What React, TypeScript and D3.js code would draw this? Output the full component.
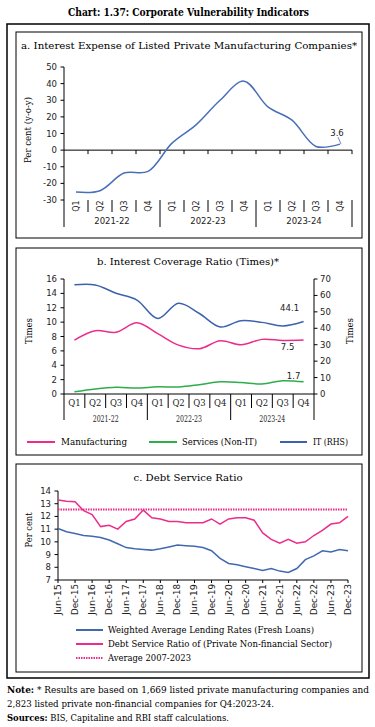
import React from "react";
import * as d3 from "d3";

const QUARTERS = ["Q1", "Q2", "Q3", "Q4"];
const YEARS = ["2021-22", "2022-23", "2023-24"];
const interestExpense = [-25.2, -24.4, -13.8, -12.8, 4.2, 15.2, 30, 41.5, 26, 18, 2.2, 3.6];
const ticksA = [-30, -20, -10, 0, 10, 20, 30, 40, 50];

const manufacturing = [7.5, 8.8, 8.6, 9.9, 8.4, 6.8, 6.3, 7.4, 6.85, 7.6, 7.45, 7.5];
const services = [0.3, 0.7, 0.93, 0.83, 1.0, 0.97, 1.3, 1.7, 1.6, 1.4, 1.85, 1.7];
const itRHS = [66.5, 66.4, 61.3, 57.2, 46, 55.2, 49, 40.8, 44.6, 43.6, 41.4, 44.1];
const ticksBL = [0, 2, 4, 6, 8, 10, 12, 14, 16];
const ticksBR = [0, 10, 20, 30, 40, 50, 60, 70];

const dates = ["Jun-15", "Sep-15", "Dec-15", "Mar-16", "Jun-16", "Sep-16", "Dec-16", "Mar-17", "Jun-17", "Sep-17", "Dec-17", "Mar-18", "Jun-18", "Sep-18", "Dec-18", "Mar-19", "Jun-19", "Sep-19", "Dec-19", "Mar-20", "Jun-20", "Sep-20", "Dec-20", "Mar-21", "Jun-21", "Sep-21", "Dec-21", "Mar-22", "Jun-22", "Sep-22", "Dec-22", "Mar-23", "Jun-23", "Sep-23", "Dec-23"];
const dsr = [13.3, 13.2, 13.15, 12.45, 12.15, 11.2, 11.3, 11.0, 11.6, 11.8, 12.5, 11.9, 11.8, 11.6, 11.6, 11.5, 11.5, 11.5, 11.8, 11.4, 11.8, 11.9, 11.9, 11.7, 10.7, 10.2, 9.9, 10.2, 9.9, 10.0, 10.5, 10.9, 11.4, 11.5, 12.0];
const walr = [11.05, 10.8, 10.65, 10.5, 10.45, 10.35, 10.15, 9.85, 9.55, 9.45, 9.4, 9.35, 9.45, 9.6, 9.75, 9.7, 9.65, 9.55, 9.3, 8.7, 8.3, 8.2, 8.05, 7.9, 7.75, 7.9, 7.7, 7.6, 7.9, 8.6, 8.9, 9.3, 9.2, 9.4, 9.3];
const averageDSR = 12.55;
const ticksC = [7, 8, 9, 10, 11, 12, 13, 14];

const SANS = "DejaVu Sans, Verdana, sans-serif";
const SERIF = "DejaVu Serif, Cambria, serif";
const BLUE_A = "#4A6FB8";
const PINK = "#EC2C8C";
const GREEN = "#2EAD4B";
const BLUE_IT = "#3D62AD";

const quarterKeys = YEARS.flatMap((y) => QUARTERS.map((q) => `${y}-${q}`));

function PanelA() {
  const x = d3.scaleBand<string>().domain(quarterKeys).range([64, 352]);
  const y = d3.scaleLinear().domain([-30, 50]).range([200, 67]);
  const line = d3
    .line<number>()
    .x((_, i) => (x(quarterKeys[i]) as number) + x.bandwidth() / 2)
    .y((d) => y(d))
    .curve(d3.curveCatmullRom.alpha(0.5));
  const step = x.step();
  const x0 = x.range()[0];
  const last = interestExpense.length - 1;
  const px = (x(quarterKeys[last]) as number) + x.bandwidth() / 2;
  const py = y(interestExpense[last]);
  return (
    <g>
      <rect x={16} y={32} width={346} height={206} fill="none" stroke="#000" strokeWidth={1} />
      <text x={189} y={48.5} textAnchor="middle" fontFamily={SERIF} fontSize={10} textLength={336} lengthAdjust="spacingAndGlyphs">
        a. Interest Expense of Listed Private Manufacturing Companies*
      </text>
      <text transform="translate(31,130) rotate(-90)" textAnchor="middle" fontFamily={SERIF} fontSize={8.5} textLength={66} lengthAdjust="spacingAndGlyphs">
        Per cent (y-o-y)
      </text>
      <line x1={64} x2={64} y1={y(50)} y2={y(-30)} stroke="#000" strokeWidth={1} />
      {ticksA.map((t) => (
        <g key={t}>
          <line x1={60.5} x2={64} y1={y(t)} y2={y(t)} stroke="#000" />
          <text x={57} y={y(t) + 3} textAnchor="end" fontFamily={SANS} fontSize={8.5} fill="#222">
            {t}
          </text>
        </g>
      ))}
      <line x1={64} x2={352} y1={y(0)} y2={y(0)} stroke="#000" strokeWidth={1} />
      {d3.range(1, quarterKeys.length + 1).map((i) => (
        <line key={i} x1={x0 + i * step} x2={x0 + i * step} y1={y(0)} y2={y(0) + 4} stroke="#000" />
      ))}
      {quarterKeys.map((k, i) => {
        const cx = (x(k) as number) + x.bandwidth() / 2;
        return (
          <text key={k} transform={`translate(${cx + 3},206) rotate(-90)`} textAnchor="middle" fontFamily={SANS} fontSize={8} fill="#222">
            {QUARTERS[i % 4]}
          </text>
        );
      })}
      {d3.range(0, quarterKeys.length + 1).map((i) => {
        const isYear = i % 4 === 0;
        return (
          <line key={`s${i}`} x1={x0 + i * step} x2={x0 + i * step} y1={200} y2={isYear ? 227 : 212} stroke="#000" />
        );
      })}
      {YEARS.map((yr, j) => (
        <text key={yr} x={x0 + (j * 4 + 2) * step} y={224} textAnchor="middle" fontFamily={SANS} fontSize={8.5} fill="#222">
          {yr}
        </text>
      ))}
      <path d={line(interestExpense) || ""} fill="none" stroke={BLUE_A} strokeWidth={1.5} />
      <line x1={338} y1={137} x2={px + 1} y2={py} stroke={BLUE_A} strokeWidth={0.8} />
      <text x={337} y={136} textAnchor="middle" fontFamily={SANS} fontSize={8.5} fill="#222">
        {interestExpense[last]}
      </text>
    </g>
  );
}

function PanelB() {
  const x = d3.scaleBand<string>().domain(quarterKeys).range([64, 314]);
  const yL = d3.scaleLinear().domain([0, 16]).range([394, 279]);
  const yR = d3.scaleLinear().domain([0, 70]).range([394, 279]);
  const cx = (i: number) => (x(quarterKeys[i]) as number) + x.bandwidth() / 2;
  const mk = (sc: d3.ScaleLinear<number, number>) =>
    d3
      .line<number>()
      .x((_, i) => cx(i))
      .y((d) => sc(d))
      .curve(d3.curveCatmullRom.alpha(0.5));
  const step = x.step();
  const x0 = x.range()[0];
  const last = 11;
  return (
    <g>
      <rect x={16} y={248} width={346} height={207} fill="none" stroke="#000" strokeWidth={1} />
      <text x={188} y={265} textAnchor="middle" fontFamily={SERIF} fontSize={10} textLength={182} lengthAdjust="spacingAndGlyphs">
        b. Interest Coverage Ratio (Times)*
      </text>
      <text transform="translate(32,331) rotate(-90)" textAnchor="middle" fontFamily={SERIF} fontSize={8.5}>
        Times
      </text>
      <text transform="translate(353,331) rotate(-90)" textAnchor="middle" fontFamily={SERIF} fontSize={8.5}>
        Times
      </text>
      <line x1={64} x2={64} y1={279} y2={394} stroke="#000" />
      {ticksBL.map((t) => (
        <g key={t}>
          <line x1={60.5} x2={64} y1={yL(t)} y2={yL(t)} stroke="#000" />
          <text x={57} y={yL(t) + 3} textAnchor="end" fontFamily={SANS} fontSize={8.5} fill="#222">
            {t}
          </text>
        </g>
      ))}
      <line x1={314} x2={314} y1={279} y2={394} stroke="#000" />
      {ticksBR.map((t) => (
        <g key={t}>
          <line x1={314} x2={317.5} y1={yR(t)} y2={yR(t)} stroke="#000" />
          <text x={320} y={yR(t) + 3} textAnchor="start" fontFamily={SANS} fontSize={8.5} fill="#222">
            {t}
          </text>
        </g>
      ))}
      <line x1={64} x2={314} y1={394} y2={394} stroke="#000" />
      {d3.range(0, quarterKeys.length + 1).map((i) => (
        <line key={i} x1={x0 + i * step} x2={x0 + i * step} y1={394} y2={i % 4 === 0 ? 420 : 408} stroke="#000" />
      ))}
      {quarterKeys.map((k, i) => (
        <text key={k} x={cx(i)} y={406} textAnchor="middle" fontFamily={SERIF} fontSize={8.5} fill="#222">
          {QUARTERS[i % 4]}
        </text>
      ))}
      {YEARS.map((yr, j) => (
        <text key={yr} x={x0 + (j * 4 + 2) * step} y={422} textAnchor="middle" fontFamily={SERIF} fontSize={8.5} fill="#222" textLength={26} lengthAdjust="spacingAndGlyphs">
          {yr}
        </text>
      ))}
      <path d={mk(yR)(itRHS) || ""} fill="none" stroke={BLUE_IT} strokeWidth={1.5} />
      <path d={mk(yL)(manufacturing) || ""} fill="none" stroke={PINK} strokeWidth={1.5} />
      <path d={mk(yL)(services) || ""} fill="none" stroke={GREEN} strokeWidth={1.5} />
      <text x={cx(last) - 14} y={yR(itRHS[last]) - 11} textAnchor="middle" fontFamily={SANS} fontSize={8.5} fill="#222">
        {itRHS[last]}
      </text>
      <text x={cx(last) - 16} y={yL(manufacturing[last]) + 10} textAnchor="middle" fontFamily={SANS} fontSize={8.5} fill="#222">
        {manufacturing[last]}
      </text>
      <text x={cx(last) - 10} y={yL(services[last]) - 3} textAnchor="middle" fontFamily={SANS} fontSize={8.5} fill="#222">
        {services[last]}
      </text>
      {[
        { label: "Manufacturing", color: PINK, x1: 27, x2: 55, tx: 61, w: 66 },
        { label: "Services (Non-IT)", color: GREEN, x1: 149, x2: 177, tx: 182, w: 75 },
        { label: "IT (RHS)", color: BLUE_IT, x1: 280, x2: 307, tx: 313, w: 35 },
      ].map((l) => (
        <g key={l.label}>
          <line x1={l.x1} x2={l.x2} y1={442} y2={442} stroke={l.color} strokeWidth={2} />
          <text x={l.tx} y={445} fontFamily={SERIF} fontSize={9} textLength={l.w} lengthAdjust="spacingAndGlyphs">
            {l.label}
          </text>
        </g>
      ))}
    </g>
  );
}

function PanelC() {
  const x = d3.scalePoint<string>().domain(dates).range([58, 348]);
  const y = d3.scaleLinear().domain([7, 14]).range([580, 491]);
  const mk = d3
    .line<number>()
    .x((_, i) => x(dates[i]) as number)
    .y((d) => y(d));
  const legend = [
    { label: "Weighted Average Lending Rates (Fresh Loans)", color: "#4169B0", dash: "", yy: 630, w: 206 },
    { label: "Debt Service Ratio of (Private Non-financial Sector)", color: PINK, dash: "", yy: 644, w: 224 },
    { label: "Average 2007-2023", color: PINK, dash: "1.5,1", yy: 658, w: 83 },
  ];
  return (
    <g>
      <rect x={16} y={464} width={346} height={208} fill="none" stroke="#000" strokeWidth={1} />
      <text x={188} y={480.5} textAnchor="middle" fontFamily={SERIF} fontSize={10} textLength={109} lengthAdjust="spacingAndGlyphs">
        c. Debt Service Ratio
      </text>
      <text transform="translate(32,530) rotate(-90)" textAnchor="middle" fontFamily={SERIF} fontSize={8.5} textLength={35} lengthAdjust="spacingAndGlyphs">
        Per cent
      </text>
      <line x1={58} x2={58} y1={491} y2={580} stroke="#000" />
      {ticksC.map((t) => (
        <g key={t}>
          <line x1={54.5} x2={58} y1={y(t)} y2={y(t)} stroke="#000" />
          <text x={51} y={y(t) + 3} textAnchor="end" fontFamily={SANS} fontSize={8.5} fill="#222">
            {t}
          </text>
        </g>
      ))}
      <line x1={58} x2={348} y1={580} y2={580} stroke="#000" />
      {dates
        .filter((_, i) => i % 2 === 0)
        .map((d) => (
          <g key={d}>
            <line x1={x(d) as number} x2={x(d) as number} y1={580} y2={583} stroke="#000" />
            <text transform={`translate(${(x(d) as number) + 3},584) rotate(-90)`} textAnchor="end" fontFamily={SANS} fontSize={8.5} fill="#222" textLength={31} lengthAdjust="spacingAndGlyphs">
              {d}
            </text>
          </g>
        ))}
      <line x1={58} x2={348} y1={y(averageDSR)} y2={y(averageDSR)} stroke={PINK} strokeWidth={2} strokeDasharray="1.5,1" />
      <path d={mk(walr) || ""} fill="none" stroke="#4169B0" strokeWidth={1.5} />
      <path d={mk(dsr) || ""} fill="none" stroke={PINK} strokeWidth={1.5} />
      {legend.map((l) => (
        <g key={l.label}>
          <line x1={76} x2={103} y1={l.yy} y2={l.yy} stroke={l.color} strokeWidth={2} strokeDasharray={l.dash || undefined} />
          <text x={108} y={l.yy + 3} fontFamily={SERIF} fontSize={9} textLength={l.w} lengthAdjust="spacingAndGlyphs">
            {l.label}
          </text>
        </g>
      ))}
    </g>
  );
}

export default function App() {
  return (
    <svg width={375} height={727} viewBox="0 0 375 727" style={{ position: "absolute", left: 0, top: 0, background: "#fff" }}>
      <rect x={0} y={0} width={375} height={727} fill="#fff" />
      <text x={188.5} y={15.5} textAnchor="middle" fontFamily={SERIF} fontSize={10.5} fontWeight="bold" textLength={241} lengthAdjust="spacingAndGlyphs">
        Chart: 1.37: Corporate Vulnerability Indicators
      </text>
      <rect x={7} y={24} width={362} height={654} fill="none" stroke="#000" strokeWidth={1.5} />
      <PanelA />
      <PanelB />
      <PanelC />
      <text x={7} y={693} fontFamily={SERIF} fontSize={8.5} textLength={362} lengthAdjust="spacingAndGlyphs">
        <tspan fontWeight="bold">Note:</tspan> * Results are based on 1,669 listed private manufacturing companies and
      </text>
      <text x={7} y={707} fontFamily={SERIF} fontSize={8.5} textLength={267} lengthAdjust="spacingAndGlyphs">
        2,823 listed private non-financial companies for Q4:2023-24.
      </text>
      <text x={7} y={721} fontFamily={SERIF} fontSize={8.5} textLength={222} lengthAdjust="spacingAndGlyphs">
        <tspan fontWeight="bold">Sources:</tspan> BIS, Capitaline and RBI staff calculations.
      </text>
    </svg>
  );
}
